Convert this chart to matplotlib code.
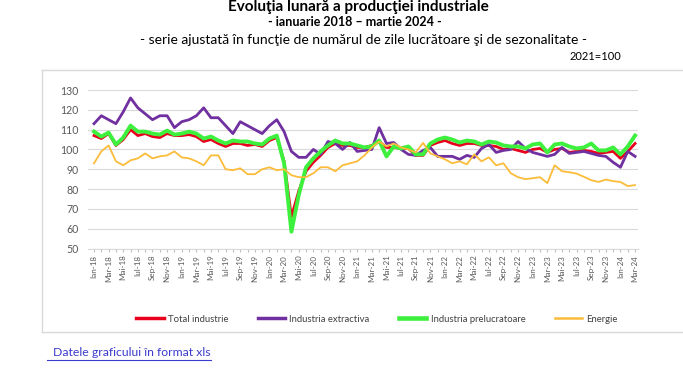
import matplotlib
matplotlib.use('Agg')
import matplotlib.pyplot as plt
from matplotlib.lines import Line2D

plt.rcParams['font.family'] = ['Lato', 'DejaVu Sans']

# etichete luni (ian 2018 - mar 2024)
luni = ['Ian', 'Feb', 'Mar', 'Apr', 'Mai', 'Iun', 'Iul', 'Aug', 'Sep', 'Oct', 'Nov', 'Dec']
ani = ['18', '19', '20', '21', '22', '23', '24']
perioade = [l + '-' + a for a in ani for l in luni][:75]

# indici 2021=100
total = [107, 105.5, 108, 102, 105, 110, 107, 108, 106.5, 106, 108, 107,
         107, 107.5, 106.5, 104, 105, 103, 101.5, 103, 103, 102, 102.5, 101.5,
         104.5, 106, 94, 66, 79, 89, 93.5, 97, 101, 103, 102, 102,
         101, 101, 102, 104, 101, 101, 100.5, 100.5, 97, 97, 102, 103.5,
         104.5, 103, 102, 103, 103, 102, 102, 101.5, 100, 100.5, 99.5, 98.5,
         100, 100.5, 98.5, 100, 100.5, 98.5, 99, 99.5, 99, 98, 98.5, 99,
         95.5, 99, 103]
extractiva = [113, 117, 115, 113, 119, 126, 121, 118, 115, 117, 117, 111,
              114, 115, 117, 121, 116, 116, 112, 108, 114, 112, 110, 108,
              112, 115, 109, 99, 96, 96, 100, 97.5, 104, 103, 100, 103.5,
              99, 99.5, 100, 111, 103, 103.5, 100, 97.5, 97, 99.5, 101, 96.5,
              96.5, 96.5, 95, 97, 96, 100.5, 102.5, 98.5, 99.5, 100, 104, 100.5,
              98.5, 97.5, 96.5, 97.5, 101, 98, 98.5, 99, 98, 97, 96.5, 93.5,
              91, 99, 96.5]
prelucratoare = [109, 106.5, 108.5, 102.5, 106, 112, 109, 109, 108, 107.5, 109.5, 107.5,
                 108, 109, 108, 105.5, 106.5, 104.5, 103, 104.5, 104, 104, 103, 102.5,
                 105.5, 107, 93, 58.5, 77, 91, 95.5, 99, 102, 104.5, 103, 103,
                 102, 101, 101.5, 104.5, 96.5, 101.5, 100.5, 101.5, 97.5, 97.5, 103, 105,
                 106, 105, 103.5, 104.5, 104, 102.5, 104, 103.5, 102, 101.5, 101.5, 100.5,
                 102.5, 103, 98.5, 102.5, 103, 101.5, 100.5, 101, 103, 99.5, 99.5, 101,
                 97.5, 101.5, 107]
energie = [93, 99, 102, 94, 92, 94.5, 95.5, 98, 95.5, 96.5, 97, 99,
           96, 95.5, 94, 92, 97, 97, 90, 89.5, 90.5, 87.5, 87.5, 90,
           91, 89.5, 90, 87, 86, 86, 88, 91, 91, 89, 92, 93,
           94, 97, 101, 104, 101.5, 103, 101, 100, 98.5, 103.3, 98, 96.5,
           95, 93, 94, 92.5, 97.5, 94, 96, 92, 93, 88, 86, 85,
           85.5, 86, 83, 92, 89, 88.5, 87.8, 86.2, 84.5, 83.6, 84.8, 84,
           83.6, 81.5, 82]

serii = ['Total industrie', 'Industria extractiva', 'Industria prelucratoare', 'Energie']
culori = ['#e8001c', '#7030a0', '#3ef03e', '#fbbc3a']
grosimi = [2.0, 2.0, 2.8, 1.3]

W, H = 683, 368
fig = plt.figure(figsize=(W / 100, H / 100), dpi=100)

# chenarul graficului
for xs, ys in [((42, 700), (70, 70)), ((42, 700), (332, 332)), ((42, 42), (70, 332))]:
    fig.add_artist(Line2D([x / W for x in xs], [1 - y / H for y in ys],
                          color='#d9d9d9', lw=1.0))

ax = fig.add_axes([88 / W, 1 - 248.5 / H, (638 - 88) / W, (248.5 - 90) / H])
x = list(range(len(perioade)))
for vals, c, lw in zip([total, extractiva, prelucratoare, energie], culori, grosimi):
    ax.plot(x, vals, color=c, lw=lw, solid_joinstyle='round')

ax.set_ylim(50, 130)
ax.set_yticks(range(50, 131, 10))
ax.set_xlim(-0.82, 74.4)
ax.set_xticks(x)
ax.set_xticklabels([p if i % 2 == 0 else '' for i, p in enumerate(perioade)],
                   rotation=90, fontsize=5.8, color='#595959')
ax.tick_params(axis='x', length=2.5, color='#bfbfbf', pad=2)
ax.tick_params(axis='y', length=0, labelsize=7.6, labelcolor='#595959', pad=7)
ax.grid(axis='y', color='#d9d9d9', lw=0.8)
ax.set_axisbelow(True)
for s in ['top', 'right', 'left']:
    ax.spines[s].set_visible(False)
ax.spines['bottom'].set_color('#d9d9d9')

handles = [Line2D([], [], color=c, lw=lw + 0.5) for c, lw in zip(culori, grosimi)]
fig.legend(handles, serii, loc='center', bbox_to_anchor=(377 / W, 1 - 319 / H),
           ncol=4, frameon=False, fontsize=6.8, handlelength=2.9, handletextpad=0.45,
           columnspacing=3.1, labelcolor='#404040')

# titluri
fig.text(358 / W, 1 - 7 / H, 'Evoluţia lunară a producţiei industriale',
         ha='center', va='center', fontsize=11, fontweight='bold')
fig.text(355 / W, 1 - 22 / H, '- ianuarie 2018 – martie 2024 -',
         ha='center', va='center', fontsize=9, fontweight='bold')
fig.text(364 / W, 1 - 40 / H,
         '- serie ajustată în funcţie de numărul de zile lucrătoare şi de sezonalitate -',
         ha='center', va='center', fontsize=10)
fig.text(595 / W, 1 - 57 / H, '2021=100', ha='center', va='center', fontsize=8)

link = fig.text(53 / W, 1 - 353 / H, 'Datele graficului în format xls',
                ha='left', va='center', fontsize=8.8, color='#3c3ccc')
fig.canvas.draw()
bb = link.get_window_extent()
fig.add_artist(Line2D([47 / W, bb.x1 / W], [(bb.y0 - 1) / H] * 2, color='#3c3ccc', lw=0.8))

fig.savefig('out.png', dpi=100)
